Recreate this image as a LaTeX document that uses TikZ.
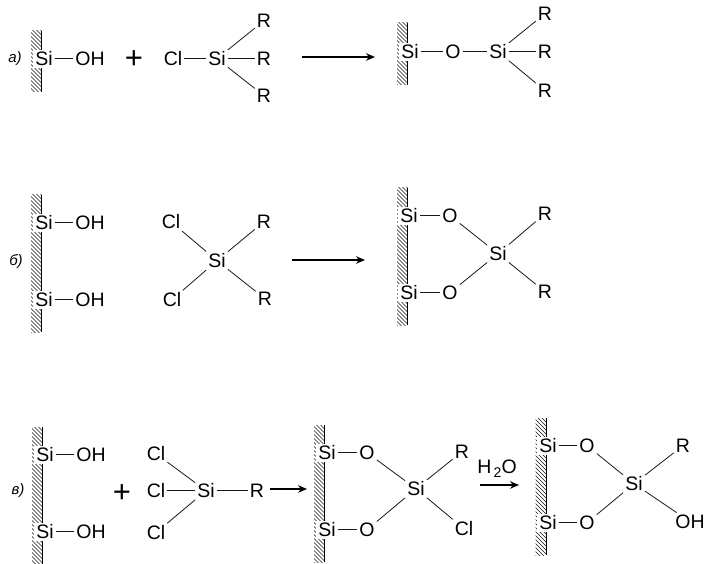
\documentclass[tikz,border=0pt]{standalone}
\usepackage{fontspec}
\setmainfont{Liberation Sans}
\usetikzlibrary{arrows.meta}
\tikzset{
  atom/.style={font=\fontsize{19.5}{20}\selectfont,inner sep=2pt,fill=white,yshift=-0.7pt},
  lbl/.style={font=\fontsize{15}{16}\selectfont\itshape,inner sep=0pt,yshift=-1.5pt},
  plus sign/.style={font=\fontsize{31}{32}\selectfont,inner sep=0pt,yshift=-3.5pt},
  bond/.style={line width=0.8pt,black!90},
  rx/.style={line width=1.2pt,-{Stealth[length=9pt,width=7.5pt]}},
  wallline/.style={line width=1pt},
  hatch/.style={line width=0.6pt,black!90}
}
\newcommand{\hatchwall}[3]{%
  \begin{scope}
    \clip (#1-10.5,#2) rectangle (#1,#3);
    \pgfmathsetmacro{\yy}{#2-12}
    \foreach \k in {0,4,...,\numexpr#3-#2+24\relax}{
      \draw[hatch] (#1-12,\yy+\k) -- (#1+1,\yy+\k+13);
    }
  \end{scope}
  \draw[wallline] (#1,#2) -- (#1,#3);
}
\begin{document}
\begin{tikzpicture}[x=1pt,y=-1pt]
\useasboundingbox (0,0) rectangle (710,564);
\fill[white] (0,0) rectangle (710,564);
% walls
\hatchwall{41.5}{31}{92}
\hatchwall{407.5}{23}{85}
\hatchwall{41.5}{195}{332}
\hatchwall{407.5}{188}{325}
\hatchwall{42.5}{427}{564}
\hatchwall{324.5}{425}{562}
\hatchwall{546}{418}{555}
% row a
\node[lbl] (la) at (15,57) {а)};
\node[atom] (a1) at (44,58) {Si};
\node[atom] (a2) at (90,58) {OH};
\node[plus sign] (ap) at (134,56) {+};
\node[atom] (a3) at (173,58) {Cl};
\node[atom] (a4) at (217,58) {Si};
\node[atom] (a5) at (264,20) {R};
\node[atom] (a6) at (264,58) {R};
\node[atom] (a7) at (264,95) {R};
\draw[bond] (a1) -- (a2);
\draw[bond] (a3) -- (a4);
\draw[bond] (a4) -- (a5);
\draw[bond] (a4) -- (a6);
\draw[bond] (a4) -- (a7);
\coordinate (as) at (302,57); \coordinate (ae) at (375,57);
\draw[rx] (as) -- (ae);
\node[atom] (p1) at (410,51) {Si};
\node[atom] (p2) at (453,51) {O};
\node[atom] (p3) at (498,51) {Si};
\node[atom] (p4) at (545,13) {R};
\node[atom] (p5) at (545,51) {R};
\node[atom] (p6) at (545,90) {R};
\draw[bond] (p1) -- (p2);
\draw[bond] (p2) -- (p3);
\draw[bond] (p3) -- (p4);
\draw[bond] (p3) -- (p5);
\draw[bond] (p3) -- (p6);
% row b
\node[lbl] (lb) at (16,260) {б)};
\node[atom] (b1) at (44,222) {Si};
\node[atom] (b2) at (90,222) {OH};
\node[atom] (b3) at (44,299) {Si};
\node[atom] (b4) at (90,299) {OH};
\draw[bond] (b1) -- (b2);
\draw[bond] (b3) -- (b4);
\node[atom] (b5) at (171,221) {Cl};
\node[atom] (b6) at (264,221) {R};
\node[atom] (b7) at (217,260) {Si};
\node[atom] (b8) at (172,299) {Cl};
\node[atom] (b9) at (265,298) {R};
\draw[bond] (b7) -- (b5);
\draw[bond] (b7) -- (b6);
\draw[bond] (b7) -- (b8);
\draw[bond] (b7) -- (b9);
\coordinate (bs) at (292,260); \coordinate (be) at (365,260);
\draw[rx] (bs) -- (be);
\node[atom] (q1) at (409,215) {Si};
\node[atom] (q2) at (450,215) {O};
\node[atom] (q3) at (409,292) {Si};
\node[atom] (q4) at (450,292) {O};
\node[atom] (q5) at (498,253) {Si};
\node[atom] (q6) at (545,213) {R};
\node[atom] (q7) at (545,291) {R};
\draw[bond] (q1) -- (q2);
\draw[bond] (q3) -- (q4);
\draw[bond] (q2) -- (q5);
\draw[bond] (q4) -- (q5);
\draw[bond] (q5) -- (q6);
\draw[bond] (q5) -- (q7);
% row c
\node[lbl] (lc) at (18,489) {в)};
\node[atom] (c1) at (45,454) {Si};
\node[atom] (c2) at (91,454) {OH};
\node[atom] (c3) at (45,531) {Si};
\node[atom] (c4) at (91,531) {OH};
\draw[bond] (c1) -- (c2);
\draw[bond] (c3) -- (c4);
\node[plus sign] (cp) at (122,490) {+};
\node[atom] (c5) at (156,453) {Cl};
\node[atom] (c6) at (156,490) {Cl};
\node[atom] (c7) at (156,532) {Cl};
\node[atom] (c8) at (206,490) {Si};
\node[atom] (c9) at (257,490) {R};
\draw[bond] (c8) -- (c5);
\draw[bond] (c8) -- (c6);
\draw[bond] (c8) -- (c7);
\draw[bond] (c8) -- (c9);
\coordinate (cs) at (270,489); \coordinate (ce) at (307,489);
\draw[rx] (cs) -- (ce);
\node[atom] (d1) at (327,452) {Si};
\node[atom] (d2) at (367,452) {O};
\node[atom] (d3) at (327,529) {Si};
\node[atom] (d4) at (367,529) {O};
\node[atom] (d5) at (416,488) {Si};
\node[atom] (d6) at (462,451) {R};
\node[atom] (d7) at (464,528) {Cl};
\draw[bond] (d1) -- (d2);
\draw[bond] (d3) -- (d4);
\draw[bond] (d2) -- (d5);
\draw[bond] (d4) -- (d5);
\draw[bond] (d5) -- (d6);
\draw[bond] (d5) -- (d7);
\node[atom,fill=none] (w) at (497,468) {H\raisebox{-0.3ex}{\fontsize{14}{15}\selectfont\,2}O};
\coordinate (ds) at (480,485); \coordinate (de) at (519,485);
\draw[rx] (ds) -- (de);
\node[atom] (e1) at (548,445) {Si};
\node[atom] (e2) at (587,445) {O};
\node[atom] (e3) at (548,522) {Si};
\node[atom] (e4) at (587,522) {O};
\node[atom] (e5) at (634,483) {Si};
\node[atom] (e6) at (683,445) {R};
\node[atom] (e7) at (690,521) {OH};
\draw[bond] (e1) -- (e2);
\draw[bond] (e3) -- (e4);
\draw[bond] (e2) -- (e5);
\draw[bond] (e4) -- (e5);
\draw[bond] (e5) -- (e6);
\draw[bond] (e5) -- (e7);
\end{tikzpicture}
\end{document}
